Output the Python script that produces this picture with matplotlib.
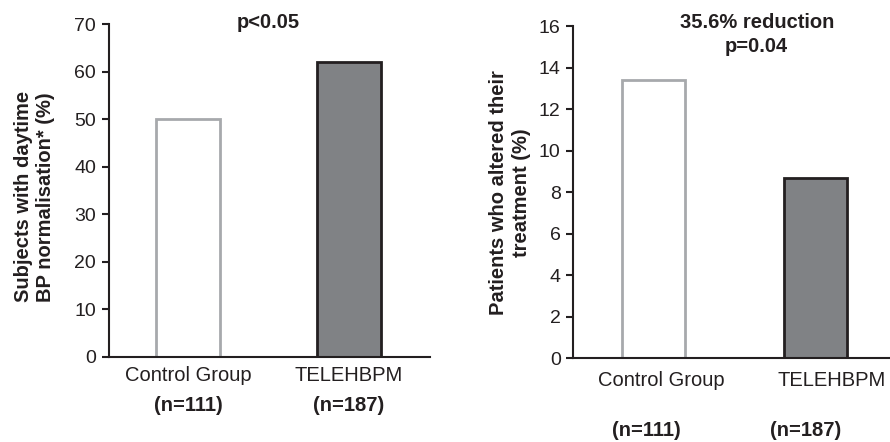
import matplotlib
matplotlib.use("Agg")
import matplotlib.pyplot as plt

plt.rcParams['font.family'] = ['Liberation Sans', 'DejaVu Sans']

groups = ["Control Group", "TELEHBPM"]
n_labels = ["(n=111)", "(n=187)"]
normalised = [50.0, 62.0]
altered = [13.4, 8.7]

dark = '#231f20'
fill_colors = ['white', '#808285']
edge_colors = ['#a7a9ac', dark]

fig = plt.figure(figsize=(8.9, 4.42), dpi=100)
ax1 = fig.add_axes([0.1221, 0.193, 0.361, 0.752])
ax2 = fig.add_axes([0.644, 0.189, 0.356, 0.752])

def style(ax, ymax, step):
    ax.spines['top'].set_visible(False)
    ax.spines['right'].set_visible(False)
    for s in ['left', 'bottom']:
        ax.spines[s].set_linewidth(1.5)
        ax.spines[s].set_color(dark)
    ax.set_ylim(0, ymax)
    ax.set_yticks(range(0, ymax + 1, step))
    ax.tick_params(axis='y', direction='out', length=5, width=1.5, color=dark,
                   labelsize=14, labelcolor=dark, pad=4)
    ax.tick_params(axis='x', length=0, labelsize=14, labelcolor=dark)

# left panel
x = range(len(groups))
ax1.bar(x, normalised, width=0.40, color=fill_colors, edgecolor=edge_colors, linewidth=2)
style(ax1, 70, 10)
ax1.set_xlim(-0.4925, 1.503)
ax1.set_xticks([])
for i, g in enumerate(groups):
    ax1.annotate(g, xy=(i, 0), xycoords=('data', 'axes fraction'), xytext=(0, -13.5),
                 textcoords='offset points', ha='center', va='center', fontsize=14.5, color=dark)
    ax1.annotate(n_labels[i], xy=(i, 0), xycoords=('data', 'axes fraction'), xytext=(0, -35),
                 textcoords='offset points', ha='center', va='center', fontsize=14.5,
                 fontweight='bold', color=dark)
fig.text(268 / 890, 1 - 22 / 442, "p<0.05", ha='center', va='center', fontsize=14.5,
         fontweight='bold', color=dark)
fig.text(34.5 / 890, 1 - 302 / 442, "Subjects with daytime\nBP normalisation* (%)",
         rotation=90, ha='center', va='bottom', multialignment='left', fontsize=14.5,
         fontweight='bold', color=dark, linespacing=1.25)

# right panel
ax2.bar(x, altered, width=0.39, color=fill_colors, edgecolor=edge_colors, linewidth=2)
style(ax2, 16, 2)
ax2.set_xlim(-0.494, 1.462)
ax2.set_xticks([])
label_shift = [0.05, 0.10]
n_shift = [-0.04, -0.06]
for i, g in enumerate(groups):
    ax2.annotate(g, xy=(i + label_shift[i], 0), xycoords=('data', 'axes fraction'),
                 xytext=(0, -16), textcoords='offset points', ha='center', va='center',
                 fontsize=14.5, color=dark)
    ax2.annotate(n_labels[i], xy=(i + n_shift[i], 0), xycoords=('data', 'axes fraction'),
                 xytext=(0, -52), textcoords='offset points', ha='center', va='center',
                 fontsize=14.5, fontweight='bold', color=dark)
fig.text(756.7 / 890, 1 - 34.5 / 442, "35.6% reduction\np=0.04", ha='center', va='center',
         fontsize=14.5, fontweight='bold', color=dark, linespacing=1.4)
fig.text(510 / 890, 1 - 193 / 442, "Patients who altered their\ntreatment (%)",
         rotation=90, ha='center', va='center', multialignment='center', fontsize=14.5,
         fontweight='bold', color=dark, linespacing=1.25)

fig.savefig("out.png", dpi=100)
